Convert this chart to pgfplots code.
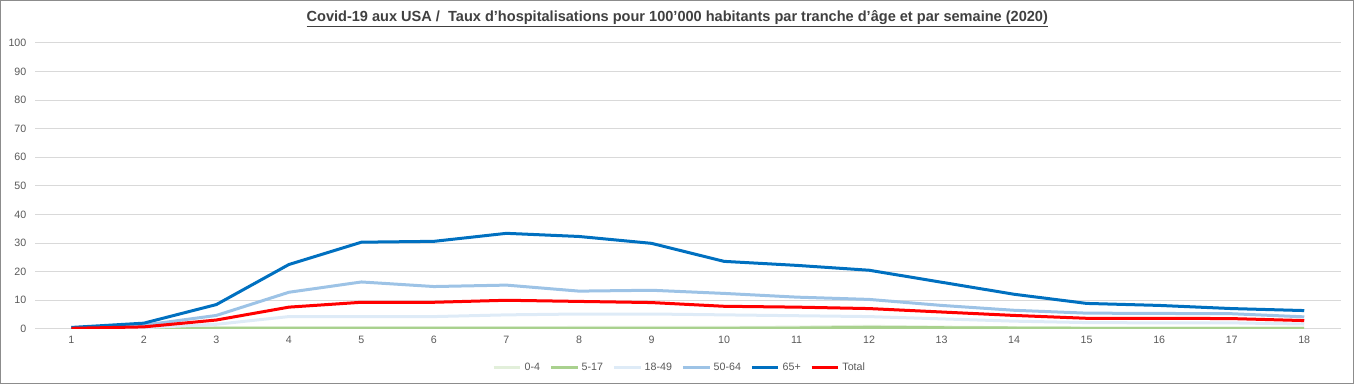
\documentclass[border=0pt]{standalone}
\usepackage{fontspec}
\setmainfont{Liberation Sans}
\usepackage{graphicx}
\usepackage{pgfplots}
\pgfplotsset{compat=1.18}
\definecolor{cA}{HTML}{E2EFDA}
\definecolor{cB}{HTML}{A9D18E}
\definecolor{cC}{HTML}{DEEBF7}
\definecolor{cD}{HTML}{9DC3E6}
\definecolor{cE}{HTML}{0070C0}
\definecolor{cF}{HTML}{FF0000}
\definecolor{tickgray}{HTML}{595959}
\definecolor{gridgray}{HTML}{D9D9D9}
\definecolor{titlegray}{HTML}{404040}
\begin{document}
\begin{tikzpicture}
\begin{axis}[
  at={(0,0)}, anchor=south west,
  scale only axis,
  width=978.75pt, height=214.5pt,
  xmin=0.5, xmax=18.5, ymin=0, ymax=100,
  axis line style={draw=none},
  major tick length=0pt,
  xtick={1,...,18},
  ytick={0,10,...,100},
  ymajorgrids, grid style={gridgray, line width=0.75pt},
  /pgf/number format/assume math mode=true,
  tick label style={font=\fontsize{8}{9.6}\selectfont, text=tickgray},
  yticklabel style={xshift=-3pt},
  xticklabel style={yshift=-2pt},
  legend columns=6,
  legend style={at={(0.494,-0.135)}, anchor=center, draw=none, fill=none,
    font=\fontsize{8}{9.6}\selectfont, text=tickgray,
    /tikz/every even column/.append style={column sep=5pt}},
  legend image code/.code={\draw[#1, line width=2.25pt] (0pt,0pt) -- (20pt,0pt);},
  every axis plot/.append style={line width=2.25pt, mark=none},
]
\addplot[cA] coordinates {(1,0.2)(2,0.3)(3,0.4)(4,0.4)(5,0.4)(6,0.4)(7,0.4)(8,0.5)(9,0.5)(10,0.5)(11,0.6)(12,0.9)(13,0.6)(14,0.4)(15,0.3)(16,0.3)(17,0.3)(18,0.3)};
\addlegendentry{0-4}
\addplot[cB] coordinates {(1,0.1)(2,0.2)(3,0.2)(4,0.2)(5,0.2)(6,0.2)(7,0.2)(8,0.2)(9,0.2)(10,0.2)(11,0.3)(12,0.5)(13,0.4)(14,0.3)(15,0.2)(16,0.2)(17,0.2)(18,0.2)};
\addlegendentry{5-17}
\addplot[cC] coordinates {(1,0.1)(2,0.4)(3,1.6)(4,4.3)(5,4.3)(6,4.3)(7,4.9)(8,5.2)(9,5.2)(10,4.9)(11,4.6)(12,4.3)(13,3.5)(14,2.7)(15,2.2)(16,2.1)(17,2.1)(18,1.7)};
\addlegendentry{18-49}
\addplot[cD] coordinates {(1,0.4)(2,1.3)(3,4.7)(4,12.8)(5,16.4)(6,14.8)(7,15.3)(8,13.2)(9,13.5)(10,12.4)(11,11.1)(12,10.3)(13,8.2)(14,6.5)(15,5.5)(16,5.4)(17,5.3)(18,4.2)};
\addlegendentry{50-64}
\addplot[cE] coordinates {(1,0.5)(2,2.0)(3,8.5)(4,22.5)(5,30.3)(6,30.6)(7,33.4)(8,32.3)(9,29.9)(10,23.6)(11,22.2)(12,20.5)(13,16.3)(14,12.1)(15,8.9)(16,8.2)(17,7.1)(18,6.4)};
\addlegendentry{65+}
\addplot[cF] coordinates {(1,0.2)(2,0.7)(3,3.1)(4,7.6)(5,9.3)(6,9.3)(7,10.0)(8,9.6)(9,9.2)(10,7.9)(11,7.6)(12,7.1)(13,5.9)(14,4.7)(15,3.7)(16,3.7)(17,3.6)(18,2.9)};
\addlegendentry{Total}
\end{axis}
\node[font=\fontsize{11}{13}\selectfont\bfseries, text=titlegray] at (481.5pt,232.5pt) {\resizebox{555.75pt}{\height}{\underline{Covid-19 aux USA /\ \ Taux d'hospitalisations pour 100'000 habitants par tranche d'âge et par semaine (2020)}}};
\draw[gray!90, line width=0.75pt] (-25.9pt,-40.6pt) rectangle (988.5pt,246.2pt);
\end{tikzpicture}
\end{document}
